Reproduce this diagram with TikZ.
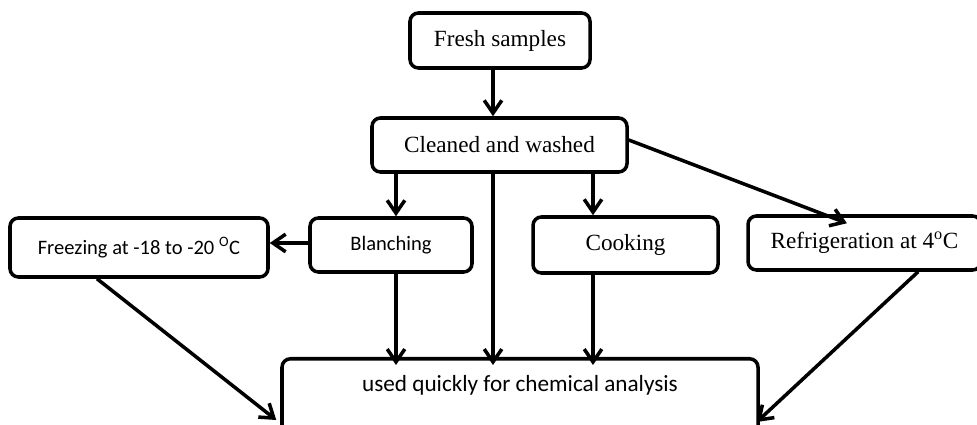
\documentclass[tikz,border=0pt]{standalone}
\usepackage{fontspec}
\setmainfont{Liberation Serif}
\newfontfamily\calibrifont{Carlito}
\usepackage{tikz}
\usetikzlibrary{arrows.meta}

\begin{document}
\begin{tikzpicture}[
  stagebox/.style={draw, line width=2.5pt, rounded corners=6pt, minimum height=1.35cm, inner sep=2pt, align=center, font=\fontsize{16.5}{19}\selectfont},
  sansbox/.style={stagebox, font=\calibrifont\fontsize{14.6}{18}\selectfont},
  flowline/.style={line width=2.5pt, -{Straight Barb[length=0.32cm, width=0.44cm]}}
]
  \useasboundingbox (0,0) rectangle (24.425,10.625);
  \clip (0,0) rectangle (24.425,10.625);

  \node[stagebox, minimum width=4.5cm, minimum height=1.375cm] (fresh) at (12.5, 9.6125) {Fresh samples};
  \node[stagebox, minimum width=6.375cm] (cleaned) at (12.4875, 7.0) {Cleaned and washed};

  \node[sansbox, minimum width=6.45cm, minimum height=1.475cm] (freezing) at (3.475, 4.4375) {Freezing at -18 to -20 \textsuperscript{O}C};
  \node[sansbox, minimum width=4.05cm] (blanching) at (9.775, 4.5) {Blanching};
  \node[stagebox, minimum width=4.625cm, minimum height=1.4cm] (cooking) at (15.6375, 4.5) {Cooking};
  \node[stagebox, minimum width=5.825cm] (fridge) at (21.6125, 4.55) {Refrigeration at 4\textsuperscript{o}C};

  \node[stagebox, font=\calibrifont\fontsize{16.5}{19}\selectfont, anchor=north, minimum width=11.9cm, inner ysep=0pt, text height=0.825cm, text depth=2cm] (analysis) at (13.0, 1.7) {used quickly for chemical analysis};

  \draw[flowline] ([xshift=-0.175cm]fresh.south) -- ([xshift=-0.175cm]fresh.south |- cleaned.north);
  \draw[flowline] ([xshift=0.125cm]blanching.north |- cleaned.south) -- ([xshift=0.125cm]blanching.north);
  \draw[flowline] ([xshift=-0.1625cm]cleaned.south) -- ([xshift=-0.1625cm,yshift=-0.2cm]cleaned.south |- analysis.north);
  \draw[flowline] ([xshift=-0.8125cm]cooking.north |- cleaned.south) -- ([xshift=-0.8125cm]cooking.north);
  \draw[flowline] ([yshift=0.125cm]cleaned.east) -- ([xshift=-0.44cm,yshift=-0.225cm]fridge.north);

  \draw[flowline] ([yshift=0.05cm]blanching.west) -- ([yshift=0.05cm]blanching.west -| freezing.east);
  \draw[flowline] ([xshift=0.125cm]blanching.south) -- ([xshift=0.125cm,yshift=-0.2cm]blanching.south |- analysis.north);
  \draw[flowline] ([xshift=-0.8125cm]cooking.south) -- ([xshift=-0.8125cm,yshift=-0.2cm]cooking.south |- analysis.north);

  \draw[flowline] ([xshift=-1.05cm]freezing.south) -- ([xshift=-0.1cm,yshift=-1.575cm]analysis.north west);
  \draw[flowline] ([xshift=1.34cm]fridge.south) -- ([xshift=-0.075cm,yshift=-1.625cm]analysis.north east);
\end{tikzpicture}
\end{document}
